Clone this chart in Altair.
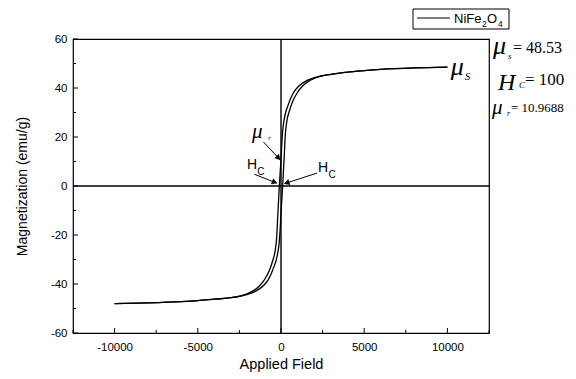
import math
import altair as alt
import pandas as pd

# ---- data ----
upper_H = [10000, 8000, 6000, 5000, 4000, 3000, 2400, 2000, 1600, 1300, 1000, 800, 600, 400, 300, 200, 100, 50, 0,
           -50, -100, -150, -200, -260, -340, -500, -700, -1000, -1300, -1600, -2000, -2400, -3000, -4000,
           -5000, -6000, -8000, -10000]
upper_M = [48.53, 48.2, 47.6, 47.1, 46.5, 45.6, 44.9, 44.2, 43.2, 42.0, 40.3, 38.6, 36.0, 32.5, 30.5, 27.5, 22.5,
           17.5, 10.97, 5.5, 0.0, -6.5, -13.0, -21.0, -26.0, -30.5, -34.5, -38.3, -40.8, -42.5, -43.9, -44.8,
           -45.6, -46.2, -46.8, -47.2, -47.7, -48.0]
lower_H = [-10000, -8000, -6000, -5000, -4000, -3000, -2400, -2000, -1600, -1300, -1000, -800, -600, -400, -300,
           -200, -100, -50, 0, 50, 100, 150, 200, 260, 340, 500, 700, 1000, 1300, 1600, 2000, 2400, 3000, 4000,
           5000, 6000, 8000, 10000]
lower_M = [-48.0, -47.7, -47.2, -46.8, -46.2, -45.6, -44.9, -44.2, -43.2, -42.0, -40.3, -38.6, -36.0, -32.5,
           -30.5, -27.5, -22.5, -17.5, -10.97, -5.5, 0.0, 6.5, 13.0, 21.0, 26.0, 30.5, 34.5, 38.3, 40.8, 42.5,
           43.9, 44.8, 45.6, 46.5, 47.1, 47.6, 48.2, 48.53]

x_major = [-10000, -5000, 0, 5000, 10000]
x_minor = [-12500, -7500, -2500, 2500, 7500, 12500]
y_major = [-60, -40, -20, 0, 20, 40, 60]
y_minor = [-50, -30, -10, 10, 30, 50]

X_DOMAIN = [-12500, 12500]
Y_DOMAIN = [-60, 60]
W, H = 416, 294
SANS = "Liberation Sans"
SERIF = "Liberation Serif"

curve = pd.DataFrame({
    "H": upper_H + lower_H,
    "M": upper_M + lower_M,
    "branch": ["upper"] * len(upper_H) + ["lower"] * len(lower_H),
})

xs = alt.Scale(domain=X_DOMAIN, nice=False, zero=False)
ys = alt.Scale(domain=Y_DOMAIN, nice=False, zero=False)

x_axis = alt.Axis(values=x_major, labelExpr="'' + datum.value", ticks=False, domain=False, grid=False,
                  labelFont=SANS, labelFontSize=11.5, labelColor="black", labelPadding=8,
                  title="Applied Field", titleFont=SANS, titleFontSize=14.5, titleFontWeight="normal",
                  titleColor="black", titlePadding=5)
y_axis = alt.Axis(values=y_major, labelExpr="'' + datum.value", ticks=False, domain=False, grid=False,
                  labelFont=SANS, labelFontSize=11.5, labelColor="black", labelPadding=6,
                  title="Magnetization (emu/g)", titleFont=SANS, titleFontSize=14,
                  titleFontWeight="normal", titleColor="black", titlePadding=21)

lines = alt.Chart(curve).mark_line(color="black", strokeWidth=1.3, interpolate="monotone").encode(
    x=alt.X("H:Q", scale=xs, axis=x_axis),
    y=alt.Y("M:Q", scale=ys, axis=y_axis),
    detail="branch:N",
)

# cross lines through origin
zero_v = alt.Chart(pd.DataFrame({"H": [0]})).mark_rule(color="black", strokeWidth=1.4).encode(
    x=alt.X("H:Q", scale=xs), y=alt.value(0), y2=alt.value(H))
zero_h = alt.Chart(pd.DataFrame({"M": [0]})).mark_rule(color="black", strokeWidth=1.4).encode(
    y=alt.Y("M:Q", scale=ys), x=alt.value(0), x2=alt.value(W))

# inward ticks
xticks_major = alt.Chart(pd.DataFrame({"H": x_major})).mark_rule(color="black").encode(
    x=alt.X("H:Q", scale=xs), y=alt.value(H), y2=alt.value(H - 5))
xticks_minor = alt.Chart(pd.DataFrame({"H": x_minor})).mark_rule(color="black").encode(
    x=alt.X("H:Q", scale=xs), y=alt.value(H), y2=alt.value(H - 3))
yticks_major = alt.Chart(pd.DataFrame({"M": y_major})).mark_rule(color="black").encode(
    y=alt.Y("M:Q", scale=ys), x=alt.value(0), x2=alt.value(5))
yticks_minor = alt.Chart(pd.DataFrame({"M": y_minor})).mark_rule(color="black").encode(
    y=alt.Y("M:Q", scale=ys), x=alt.value(0), x2=alt.value(3))

# arrows (annotation): start and tip
a_H0 = [-1058, -1599, 2175]
a_M0 = [18.0, 4.8, 5.3]
a_H1 = [-66, -264, 222]
a_M1 = [10.8, 1.2, 1.0]
kx = W / (X_DOMAIN[1] - X_DOMAIN[0])
ky = H / (Y_DOMAIN[1] - Y_DOMAIN[0])
head_H, head_M, head_ang = [], [], []
for h0, m0, h1, m1 in zip(a_H0, a_M0, a_H1, a_M1):
    dx = (h1 - h0) * kx
    dy = -(m1 - m0) * ky
    L = math.hypot(dx, dy)
    ux, uy = dx / L, dy / L
    back = 3.0
    head_H.append(h1 - back * ux / kx)
    head_M.append(m1 + back * uy / ky)
    head_ang.append(math.degrees(math.atan2(dx, -dy)) % 360)

arrows = pd.DataFrame({"H0": a_H0, "M0": a_M0, "H1": a_H1, "M1": a_M1})
heads = pd.DataFrame({"H": head_H, "M": head_M, "ang": head_ang})
arrow_lines = alt.Chart(arrows).mark_rule(color="black", strokeWidth=1).encode(
    x=alt.X("H0:Q", scale=xs), y=alt.Y("M0:Q", scale=ys), x2="H1:Q", y2="M1:Q")
arrow_heads = alt.Chart(heads).mark_point(
    shape="triangle", filled=True, fill="black", stroke="black", opacity=1, size=30, strokeWidth=0.5
).encode(x=alt.X("H:Q", scale=xs), y=alt.Y("M:Q", scale=ys), angle=alt.Angle("ang:Q", scale=None))


def dtext(txt, h, m, size, font=SANS, style="normal"):
    return alt.Chart(pd.DataFrame({"H": [h], "M": [m], "t": [txt]})).mark_text(
        font=font, fontSize=size, fontStyle=style, color="black", align="left", baseline="alphabetic"
    ).encode(x=alt.X("H:Q", scale=xs), y=alt.Y("M:Q", scale=ys), text="t:N")


def ptext(txt, px, py, size, font=SERIF, style="normal"):
    return alt.Chart(pd.DataFrame({"t": [txt]})).mark_text(
        font=font, fontSize=size, fontStyle=style, color="black", align="left", baseline="alphabetic"
    ).encode(x=alt.value(px), y=alt.value(py), text="t:N")


inner_texts = [
    dtext("μ", 10200, 45.4, 26, SERIF, "italic"),
    dtext("S", 11050, 43.4, 11, SERIF, "italic"),
    dtext("μ", -1750, 19.6, 21, SERIF, "italic"),
    dtext("r", -760, 18.6, 7, SERIF, "italic"),
    dtext("H", -2050, 7.0, 14),
    dtext("C", -1420, 4.6, 10),
    dtext("H", 2220, 5.6, 14),
    dtext("C", 2850, 3.2, 10),
]

outer_texts = [
    ptext("μ", 420, 15, 26, SERIF, "italic"),
    ptext("s", 435, 20, 9, SERIF, "italic"),
    ptext("= 48.53", 440, 14, 16),
    ptext("H", 425, 51, 24, SERIF, "italic"),
    ptext("C", 446, 49, 9, SERIF, "italic"),
    ptext("= 100", 452, 46, 17),
    ptext("μ", 419, 75, 21, SERIF, "italic"),
    ptext("r", 434, 77, 8, SERIF, "italic"),
    ptext("= 10.9688", 438, 73, 13),
]

# legend
one = pd.DataFrame({"a": [0]})
leg_box = alt.Chart(one).mark_rect(fill="white", stroke="black", strokeWidth=1).encode(
    x=alt.value(340), x2=alt.value(436), y=alt.value(-30), y2=alt.value(-10))
leg_line = alt.Chart(one).mark_rule(color="black", strokeWidth=1.2).encode(
    x=alt.value(344), x2=alt.value(377), y=alt.value(-21))
leg_texts = [
    ptext("NiFe", 381, -16, 13, SANS),
    ptext("2", 409, -12, 8.5, SANS),
    ptext("O", 414, -16, 13, SANS),
    ptext("4", 425, -12, 8.5, SANS),
]

chart = alt.layer(
    zero_v, zero_h, lines, xticks_major, xticks_minor, yticks_major, yticks_minor,
    arrow_lines, arrow_heads, *inner_texts, *outer_texts, leg_box, leg_line, *leg_texts
).properties(
    width=W, height=H,
    autosize=alt.AutoSizeParams(type="none"),
    padding={"left": 73, "top": 39, "right": 576 - 73 - W, "bottom": 379 - 39 - H},
    background="white",
).configure_view(stroke="black", strokeWidth=1.2)

chart.save("out.html", embed_options={"renderer": "svg", "actions": False})
